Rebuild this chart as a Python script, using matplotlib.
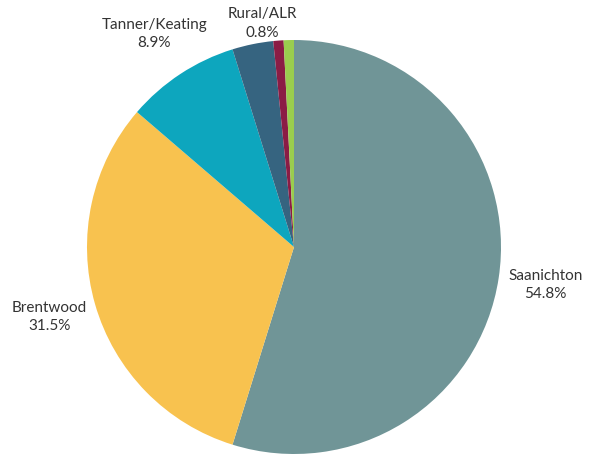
import matplotlib.pyplot as plt

regions = ["Saanichton", "Brentwood", "Tanner/Keating", "Other", "Other2", "Rural/ALR"]
shares = [54.8, 31.5, 8.9, 3.2, 0.8, 0.8]
show_label = [True, True, True, False, False, True]
colors = ["#709597", "#F8C24F", "#0DA6BE", "#366480", "#8B1C45", "#9ACD4E"]

plt.rcParams['font.family'] = ['Lato', 'DejaVu Sans']

fig = plt.figure(figsize=(5.92, 4.54), dpi=100)
ax = fig.add_axes([0, 0, 1, 1])

labels = ["{}\n{:.1f}%".format(r, s) if show else "" for r, s, show in zip(regions, shares, show_label)]
wedges, texts = ax.pie(shares, labels=labels, colors=colors, startangle=90,
                       counterclock=False, radius=1.0, labeldistance=1.23,
                       wedgeprops=dict(linewidth=0),
                       textprops=dict(fontsize=11, color="#333333"))
for t in texts:
    t.set_ha("center")
    t.set_va("center")
    t.set_linespacing(1.4)
# Rural/ALR label sits just above the top of the pie
texts[5].set_position((-0.155, 1.08))

ax.set_xlim(-294 / 207, (592 - 294) / 207)
ax.set_ylim(-1.0, (454 - 207) / 207)
ax.axis("off")

fig.savefig("out.png", dpi=100)
